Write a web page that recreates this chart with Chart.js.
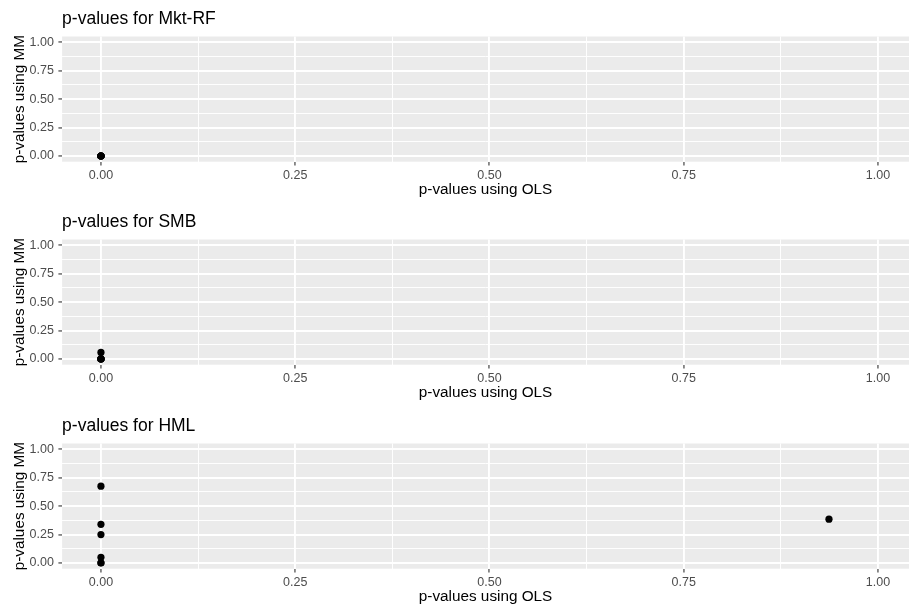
<!DOCTYPE html>
<html>
<head>
<meta charset="utf-8">
<script src="https://cdn.jsdelivr.net/npm/chart.js@4.4.1/dist/chart.umd.min.js"></script>
<style>
  html, body { margin: 0; padding: 0; background: #ffffff; }
  body { width: 909px; height: 610px; position: relative; overflow: hidden; }
  canvas { position: absolute; left: 0; }
</style>
</head>
<body>
<canvas id="mktrf" width="909" height="203" style="top:0px"></canvas>
<canvas id="smb" width="909" height="203" style="top:203px"></canvas>
<canvas id="hml" width="909" height="203" style="top:407px"></canvas>
<script>
// p-values of the factor loadings: OLS estimate (x) vs MM estimate (y)
const panelTitles = ['p-values for Mkt-RF', 'p-values for SMB', 'p-values for HML'];
const xAxisTitle = 'p-values using OLS';
const yAxisTitle = 'p-values using MM';

const olsMktRf = [0, 0, 0, 0, 0, 0];
const mmMktRf  = [0, 0, 0, 0, 0, 0];

const olsSmb = [0, 0, 0, 0, 0, 0];
const mmSmb  = [0, 0, 0.001, 0.002, 0, 0.058];

const olsHml = [0, 0, 0, 0, 0, 0, 0.937];
const mmHml  = [0.675, 0.34, 0.25, 0.05, 0, 0.002, 0.385];

const majorTicks = [0, 0.25, 0.5, 0.75, 1];
const tickLabels = ['0.00', '0.25', '0.50', '0.75', '1.00'];

// minor grid lines sit halfway between the labelled breaks
const gridValues = [];
majorTicks.forEach((v, i) => {
  gridValues.push(v);
  if (i < majorTicks.length - 1) gridValues.push((v + majorTicks[i + 1]) / 2);
});
const isMajor = v => majorTicks.some(m => Math.abs(m - v) < 1e-9);
const labelFor = v => {
  const i = majorTicks.findIndex(m => Math.abs(m - v) < 1e-9);
  return i >= 0 ? tickLabels[i] : '';
};

Chart.defaults.font.family = "'Liberation Sans', Arial, Helvetica, sans-serif";
Chart.defaults.font.weight = 'normal';

const panelBg = {
  id: 'panelBg',
  beforeDraw(chart) {
    const { ctx, chartArea: a } = chart;
    ctx.save();
    ctx.fillStyle = '#EBEBEB';
    ctx.fillRect(a.left, a.top, a.right - a.left, a.bottom - a.top);
    ctx.restore();
  }
};

function gridOptions() {
  return {
    color: '#FFFFFF',
    lineWidth: c => (c.tick && isMajor(c.tick.value)) ? 1.9 : 0.95,
    drawTicks: true,
    tickLength: 3.7,
    tickWidth: 1.1,
    tickColor: c => (c.tick && isMajor(c.tick.value)) ? '#333333' : 'rgba(0,0,0,0)'
  };
}

function makeChart(id, title, xs, ys) {
  const points = xs.map((x, i) => ({ x: x, y: ys[i] }));
  return new Chart(document.getElementById(id), {
    type: 'scatter',
    data: {
      datasets: [{
        data: points,
        backgroundColor: '#000000',
        borderWidth: 0,
        pointRadius: 3.6,
        pointHoverRadius: 3.6
      }]
    },
    options: {
      responsive: false,
      devicePixelRatio: 1,
      animation: false,
      events: [],
      layout: { autoPadding: false, padding: { left: 0, right: 0, top: 0, bottom: 4.3 } },
      plugins: {
        legend: { display: false },
        tooltip: { enabled: false },
        title: {
          display: true,
          text: title,
          align: 'start',
          fullSize: false,
          color: '#000000',
          font: { size: 17.5, weight: 'normal' },
          padding: { top: 8.3, bottom: 7.2 }
        }
      },
      scales: {
        x: {
          type: 'linear',
          min: -0.05,
          max: 1.04,
          afterBuildTicks: s => { s.ticks = gridValues.map(v => ({ value: v })); },
          afterFit: s => { s.height = 37; },
          grid: gridOptions(),
          border: { display: false },
          ticks: {
            autoSkip: false,
            maxRotation: 0,
            padding: 2.5,
            color: '#4D4D4D',
            font: { size: 12.5 },
            callback: v => labelFor(v)
          },
          title: {
            display: true,
            text: xAxisTitle,
            color: '#000000',
            font: { size: 15.3 },
            padding: { top: 0, bottom: 0 }
          }
        },
        y: {
          type: 'linear',
          min: -0.05,
          max: 1.05,
          afterBuildTicks: s => { s.ticks = gridValues.map(v => ({ value: v })); },
          afterFit: s => { s.width = 62.1; },
          grid: gridOptions(),
          border: { display: false },
          ticks: {
            autoSkip: false,
            padding: 4.5,
            color: '#4D4D4D',
            font: { size: 12.5 },
            callback: v => labelFor(v)
          },
          title: {
            display: true,
            text: yAxisTitle,
            color: '#000000',
            font: { size: 15.3 },
            padding: { top: 10.3, bottom: 0 }
          }
        }
      }
    },
    plugins: [panelBg]
  });
}

makeChart('mktrf', panelTitles[0], olsMktRf, mmMktRf);
makeChart('smb', panelTitles[1], olsSmb, mmSmb);
makeChart('hml', panelTitles[2], olsHml, mmHml);
</script>
</body>
</html>
